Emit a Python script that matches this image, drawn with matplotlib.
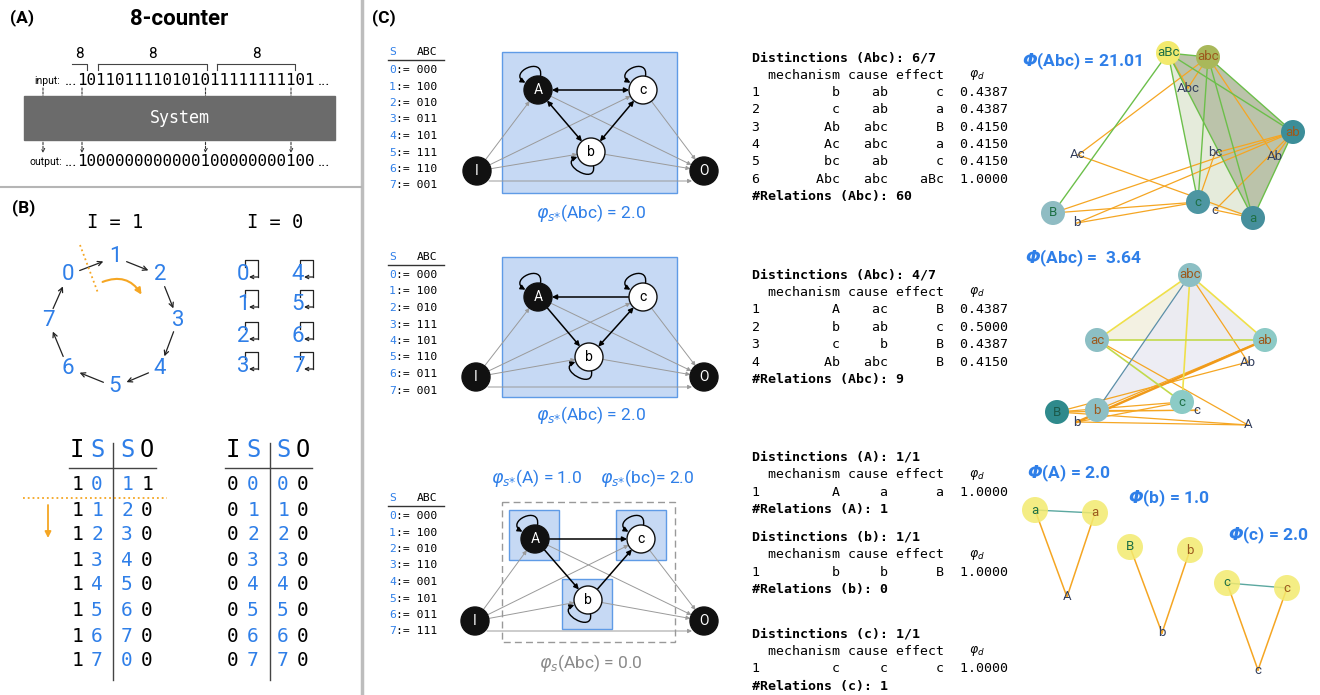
import numpy as np
import matplotlib.pyplot as plt
from matplotlib.patches import Rectangle, FancyArrowPatch, Circle, Polygon
from matplotlib.path import Path

plt.rcParams['font.family'] = ['Roboto', 'DejaVu Sans']
plt.rcParams['mathtext.fontset'] = 'dejavusans'

MONO = 'DejaVu Sans Mono'
BLUE = '#2f7fe8'
ORANGE = '#f5a623'
GREEN_TXT = '#1e7045'
BROWN_TXT = '#9c5a1e'
NAVY_TXT = '#34405e'

# ---------------- data ----------------
input_bits = "1011011110101011111111101"
output_bits = "1000000000000100000000100"
marked_steps = [0, 13, 22]
group_sizes = [8, 8, 8]

cycle_states = ['0', '1', '2', '3', '4', '5', '6', '7']

table_on = [[1, 0, 1, 1], [1, 1, 2, 0], [1, 2, 3, 0], [1, 3, 4, 0],
            [1, 4, 5, 0], [1, 5, 6, 0], [1, 6, 7, 0], [1, 7, 0, 0]]
table_off = [[0, 0, 0, 0], [0, 1, 1, 0], [0, 2, 2, 0], [0, 3, 3, 0],
             [0, 4, 4, 0], [0, 5, 5, 0], [0, 6, 6, 0], [0, 7, 7, 0]]

state_codes = [
    ["000", "100", "010", "011", "101", "111", "110", "001"],
    ["000", "100", "010", "111", "101", "110", "011", "001"],
    ["000", "100", "010", "110", "001", "101", "011", "111"],
]

# black (within-system) connections per row: (from, to, double-headed?)
links_row1 = [('A', 'c', True), ('A', 'b', True), ('c', 'b', True)]
links_row2 = [('c', 'A', False), ('A', 'b', False), ('b', 'c', True)]
links_row3 = [('A', 'c', False), ('A', 'b', False), ('b', 'c', False)]

dist_abc_1 = [("b", "ab", "c", 0.4387), ("c", "ab", "a", 0.4387), ("Ab", "abc", "B", 0.4150),
              ("Ac", "abc", "a", 0.4150), ("bc", "ab", "c", 0.4150), ("Abc", "abc", "aBc", 1.0000)]
dist_abc_2 = [("A", "ac", "B", 0.4387), ("b", "ab", "c", 0.5000), ("c", "b", "B", 0.4387),
              ("Ab", "abc", "B", 0.4150)]
dist_A = [("A", "a", "a", 1.0000)]
dist_b = [("b", "b", "B", 1.0000)]
dist_c = [("c", "c", "c", 1.0000)]
relations = [60, 9, 1, 0, 1]
dist_totals = ["6/7", "4/7", "1/1", "1/1", "1/1"]

big_phi = ["21.01", "3.64", "2.0", "1.0", "2.0"]

# projected cause-effect structures (pixel positions)
ces1_pos = {'aBc': (1168, 53), 'abc': (1208, 57), 'ab': (1293, 132), 'c': (1198, 202),
            'a': (1253, 218), 'B': (1053, 213),
            'Abc': (1188, 88), 'Ac': (1078, 155), 'bc': (1215, 153), 'Ab': (1275, 157),
            'c_m': (1215, 210), 'b_m': (1077, 223)}
ces2_pos = {'abc': (1190, 275), 'ac': (1097, 340), 'ab': (1265, 340), 'c': (1182, 402),
            'b': (1097, 410), 'B': (1057, 412),
            'Ab': (1248, 362), 'c_m': (1197, 410), 'A_m': (1248, 425), 'b_m': (1077, 422)}
ces3_pos = {'a1': (1035, 510), 'a2': (1095, 513), 'A_m': (1067, 597),
            'B1': (1130, 547), 'b2': (1190, 550), 'b_m': (1162, 633),
            'c1': (1227, 583), 'c2': (1287, 588), 'c_m': (1258, 670)}

fig = plt.figure(figsize=(13.2, 6.95), dpi=100)
ax = fig.add_axes([0, 0, 1, 1])
ax.set_xlim(0, 1320)
ax.set_ylim(695, 0)
ax.axis('off')

# separators
ax.plot([362, 362], [0, 695], color='#bdbdbd', lw=2.5)
ax.plot([0, 361], [187, 187], color='#b5b5b5', lw=1.5)

# ---------------- panel A ----------------
ax.text(10, 18, "(A)", fontsize=12.5, fontweight='bold', va='center')
ax.text(179, 19, "8-counter", fontsize=16, fontweight='bold', ha='center', va='center')

cw = 9.5
x0 = 82
for yy, bits in [(85, input_bits), (166, output_bits)]:
    ax.text(x0 - cw / 2, yy, bits, family=MONO, fontsize=11.4, va='baseline')
    ax.text(x0 - cw / 2, yy, "...", fontsize=11.5, ha='right', va='baseline')
    ax.text(x0 - cw / 2 + len(bits) * cw + 3, yy, "...", fontsize=11.5, va='baseline')
ax.text(60, 84, "input:", fontsize=7.5, ha='right', va='baseline')
ax.text(62, 165, "output:", fontsize=7.5, ha='right', va='baseline')

brackets = [(72, 87, False), (98, 207, True), (217, 295, True)]
for (xl, xr, left_tick), n in zip(brackets, group_sizes):
    ax.plot([xl, xr, xr], [64, 64, 70], color='#444', lw=0.8)
    if left_tick:
        ax.plot([xl, xl], [64, 70], color='#444', lw=0.8)
    ax.text((xl + xr) / 2, 54, str(n), fontsize=11, ha='center', va='center')

for xx in [43] + [x0 + i * cw for i in marked_steps]:
    ax.annotate("", xy=(xx, 153), xytext=(xx, 88),
                arrowprops=dict(arrowstyle='->', ls=(0, (2, 1.5)), lw=0.8, color='#333',
                                shrinkA=0, shrinkB=0, mutation_scale=6))

ax.add_patch(Rectangle((24, 96), 311, 44, color='#6b6b6b', zorder=3))
ax.text(180, 118, "System", family=MONO, fontsize=12, color='white', ha='center', va='center', zorder=4)

# ---------------- panel B ----------------
ax.text(12, 208, "(B)", fontsize=12.5, fontweight='bold', va='center')
ax.text(115, 223, "I = 1", family=MONO, fontsize=13.5, ha='center', va='center')
ax.text(275, 223, "I = 0", family=MONO, fontsize=13.5, ha='center', va='center')

cyc_xy = [(68, 275), (115, 257), (160, 275), (178, 320), (160, 368), (115, 387), (68, 368), (48, 320)]
for s, (xx, yy) in zip(cycle_states, cyc_xy):
    ax.text(xx, yy, s, fontsize=16, color=BLUE, ha='center', va='center')
for i in range(len(cyc_xy)):
    p, q = cyc_xy[i], cyc_xy[(i + 1) % len(cyc_xy)]
    ax.add_patch(FancyArrowPatch(p, q, arrowstyle='->', mutation_scale=8, lw=0.9, color='#222',
                                 shrinkA=9, shrinkB=9))
ax.plot([80, 98], [245, 293], color=ORANGE, ls=':', lw=1.3)
ax.add_patch(FancyArrowPatch((100, 283), (143, 297), connectionstyle="arc3,rad=-0.45",
                             arrowstyle='-|>', mutation_scale=9, lw=1.5, color=ORANGE))

for k, s in enumerate(cycle_states):
    xx = 243 if k < 4 else 298
    yy = [275, 305, 337, 367][k % 4]
    ax.text(xx, yy, s, fontsize=16, color=BLUE, ha='center', va='center')
    ax.plot([xx + 2, xx + 2, xx + 15, xx + 15], [yy - 8, yy - 15, yy - 15, yy + 2], color='#222', lw=0.9)
    ax.annotate("", xy=(xx + 6, yy + 2), xytext=(xx + 15.5, yy + 2),
                arrowprops=dict(arrowstyle='->', lw=0.9, color='#222', shrinkA=0, shrinkB=0, mutation_scale=6))


def draw_table(rows, xs, xline):
    head_cols = ['k', BLUE, BLUE, 'k']
    for ch, xx, c in zip("ISSO", xs, head_cols):
        ax.text(xx, 450, ch, family=MONO, fontsize=17, color=c, ha='center', va='center')
    ax.plot([xs[0] - 8, xs[3] + 9], [468, 468], color='#444', lw=1)
    ax.plot([xline, xline], [443, 680], color='#444', lw=1)
    row_y = [485, 510, 535, 560, 585, 610, 636, 661]
    for r, yy in zip(rows, row_y):
        for v, xx, c in zip(r, xs, head_cols):
            ax.text(xx, yy, str(v), family=MONO, fontsize=14, color=c, ha='center', va='center')


draw_table(table_on, [77, 97, 127, 147], 113)
draw_table(table_off, [233, 253, 283, 303], 270)
ax.plot([23, 167], [498, 498], color=ORANGE, ls=':', lw=1.3)
ax.annotate("", xy=(48, 538), xytext=(48, 505),
            arrowprops=dict(arrowstyle='-|>', lw=1.3, color=ORANGE, shrinkA=0, shrinkB=0, mutation_scale=9))

# ---------------- panel C ----------------
ax.text(372, 18, "(C)", fontsize=12.5, fontweight='bold', va='center')


def draw_states(codes, y_head, step):
    ax.text(389, y_head, "S", family=MONO, fontsize=8.2, color=BLUE, va='center')
    ax.text(437, y_head, "ABC", family=MONO, fontsize=8.2, ha='right', va='center')
    ax.plot([388, 444], [y_head + 8, y_head + 8], color='#333', lw=1)
    for k, code in enumerate(codes):
        yy = y_head + 18 + k * step
        ax.text(389, yy, str(k), family=MONO, fontsize=8.2, color=BLUE, va='center')
        ax.text(396, yy, ":= " + code, family=MONO, fontsize=8.2, va='center')


draw_states(state_codes[0], 52, 16.5)
draw_states(state_codes[1], 257, 16.5)
draw_states(state_codes[2], 498, 16.5)

R = 14


def arrow(p, q, col='k', lw=1.0, both=False, sa=10, sb=10, ms=7, z=5):
    style = '<|-|>' if both else '-|>'
    ax.add_patch(FancyArrowPatch(p, q, arrowstyle=style, mutation_scale=ms, lw=lw, color=col,
                                 shrinkA=sa, shrinkB=sb, zorder=z))


def self_loop(x, y, a1, a2, reach=2.5):
    def pt(a, d):
        return (x + d * np.cos(np.radians(a)), y - d * np.sin(np.radians(a)))
    verts = [pt(a1, R), pt(a1, reach * R), pt(a2, reach * R), pt(a2, R + 0.5)]
    path = Path(verts, [Path.MOVETO, Path.CURVE4, Path.CURVE4, Path.CURVE4])
    ax.add_patch(FancyArrowPatch(path=path, arrowstyle='-|>', mutation_scale=7, lw=1.0,
                                 color='k', zorder=5))


def draw_network(pos, links):
    gray = '#9a9a9a'
    for n in ['A', 'c', 'b']:
        arrow(pos['I'], pos[n], col=gray, lw=0.7, ms=6, z=4)
        arrow(pos[n], pos['O'], col=gray, lw=0.7, ms=6, z=4)
    (ix, iy), (ox, oy) = pos['I'], pos['O']
    arrow((ix + 12, iy + 10), (ox - 12, oy + 10), col=gray, lw=0.7, ms=6, sa=0, sb=0, z=4)
    for a, b, both in links:
        arrow(pos[a], pos[b], lw=1.1, both=both)
    self_loop(*pos['A'], 80, 150)
    self_loop(*pos['c'], 80, 150)
    self_loop(*pos['b'], -80, -160)
    for n, (x, y) in pos.items():
        dark = n in ['A', 'I', 'O']
        ax.add_patch(Circle((x, y), R, facecolor='#111' if dark else 'white', edgecolor='#111',
                            lw=1, zorder=6))
        ax.text(x, y, n, color='white' if dark else 'k', fontsize=10, ha='center', va='center', zorder=7)


net1 = {'A': (538, 90), 'c': (643, 90), 'b': (591, 152), 'I': (477, 171), 'O': (704, 171)}
net2 = {'A': (538, 297), 'c': (643, 297), 'b': (589, 357), 'I': (476, 377), 'O': (704, 377)}
net3 = {'A': (535, 539), 'c': (641, 539), 'b': (588, 600), 'I': (475, 621), 'O': (704, 621)}

box_face, box_edge = '#c6d9f4', '#5f9be6'
ax.add_patch(Rectangle((502, 52), 175, 141, facecolor=box_face, edgecolor=box_edge, lw=1, zorder=1))
ax.add_patch(Rectangle((502, 257), 175, 140, facecolor=box_face, edgecolor=box_edge, lw=1, zorder=1))
ax.add_patch(Rectangle((502, 502), 173, 140, facecolor='none', edgecolor='#999', lw=1, ls=(0, (5, 3)), zorder=1))
for (bx, by) in [(509, 510), (616, 510), (562, 579)]:
    ax.add_patch(Rectangle((bx, by), 50, 50, facecolor=box_face, edgecolor=box_edge, lw=1, zorder=1))

draw_network(net1, links_row1)
draw_network(net2, links_row2)
draw_network(net3, links_row3)

PHI_S = r"$\varphi_{s{*}}$"
ax.text(591, 213, PHI_S + "(Abc) = 2.0", fontsize=12.5, color=BLUE, ha='center', va='center')
ax.text(591, 415, PHI_S + "(Abc) = 2.0", fontsize=12.5, color=BLUE, ha='center', va='center')
ax.text(537, 478, PHI_S + "(A) = 1.0", fontsize=12.5, color=BLUE, ha='center', va='center')
ax.text(647, 478, PHI_S + "(bc)= 2.0", fontsize=12.5, color=BLUE, ha='center', va='center')
ax.text(591, 663, r"$\varphi_{s}$(Abc) = 0.0", fontsize=12.5, color='#8a8a8a', ha='center', va='center')

# distinctions text
ccw = 7.9


def draw_block(y, sub, total, rows, nrel, step=17.4):
    x = 752
    ax.text(x, y, f"Distinctions ({sub}): {total}", family=MONO, fontsize=9.5, fontweight='bold', va='center')
    ax.text(x, y + step, "  mechanism cause effect", family=MONO, fontsize=9.5, va='center')
    ax.text(x + 28.5 * ccw, y + step, r"$\varphi_d$", fontsize=9, va='center', ha='center')
    for k, (m, c, e, p) in enumerate(rows):
        line = f"{k + 1:<2}{m:>9} {c:>5} {e:>6} {p:>7.4f}"
        ax.text(x, y + (k + 2) * step, line, family=MONO, fontsize=9.5, va='center')
    ax.text(x, y + (len(rows) + 2) * step, f"#Relations ({sub}): {nrel}", family=MONO, fontsize=9.5,
            fontweight='bold', va='center')


draw_block(58, "Abc", dist_totals[0], dist_abc_1, relations[0], 17.3)
draw_block(275, "Abc", dist_totals[1], dist_abc_2, relations[1], 17.4)
draw_block(457, "A", dist_totals[2], dist_A, relations[2], 17.5)
draw_block(537, "b", dist_totals[3], dist_b, relations[3], 17.5)
draw_block(634, "c", dist_totals[4], dist_c, relations[4], 17.5)

# ---------------- cause-effect structures ----------------
PHI = r"$\mathbfit{\Phi}$"


def segs(pos, pairs, col, lw=1.0, z=2):
    for a, b in pairs:
        ax.plot([pos[a][0], pos[b][0]], [pos[a][1], pos[b][1]], color=col, lw=lw, zorder=z)


def node(pos, name, label, face, tcol, r=12, alpha=1.0):
    x, y = pos[name]
    ax.add_patch(Circle((x, y), r, facecolor=face, edgecolor='none', alpha=alpha, zorder=3))
    ax.text(x, y, label, color=tcol, fontsize=9.5, ha='center', va='center', zorder=4)


def mech(pos, name, label):
    x, y = pos[name]
    ax.text(x, y, label, color=NAVY_TXT, fontsize=9.5, ha='center', va='center', zorder=4)


# structure 1
p = ces1_pos
ax.add_patch(Polygon([p['aBc'], p['c'], p['a']], closed=True, facecolor='#dfe7d2', edgecolor='none', alpha=0.8, zorder=1))
ax.add_patch(Polygon([p['aBc'], p['abc'], p['ab'], p['a']], closed=True, facecolor='#9eaa86', edgecolor='none', alpha=0.7, zorder=1))
segs(p, [('Ac', 'abc'), ('Ac', 'a'), ('aBc', 'Abc'), ('abc', 'Abc'), ('abc', 'Ab'), ('Ab', 'ab'),
         ('B', 'ab'), ('b_m', 'ab'), ('b_m', 'c'), ('bc', 'ab'), ('bc', 'c'), ('c_m', 'ab'),
         ('B', 'c'), ('c_m', 'a')], ORANGE, 0.9)
segs(p, [('aBc', 'B'), ('aBc', 'c'), ('aBc', 'a'), ('aBc', 'ab'), ('abc', 'c'), ('abc', 'a'),
         ('abc', 'ab'), ('ab', 'a'), ('aBc', 'abc')], '#6cbf4a', 1.0)
node(p, 'aBc', 'aBc', '#f3ea6e', GREEN_TXT)
node(p, 'abc', 'abc', '#a9b85a', BROWN_TXT)
node(p, 'ab', 'ab', '#3c8e99', BROWN_TXT)
node(p, 'c', 'c', '#4d96a2', GREEN_TXT)
node(p, 'a', 'a', '#468f9c', GREEN_TXT)
node(p, 'B', 'B', '#8fbcc3', GREEN_TXT)
for n, l in [('Abc', 'Abc'), ('Ac', 'Ac'), ('bc', 'bc'), ('Ab', 'Ab'), ('c_m', 'c'), ('b_m', 'b')]:
    mech(p, n, l)
ax.text(1022, 61, PHI + "(Abc) = " + big_phi[0], fontsize=12.5, fontweight='bold', color=BLUE, va='center')

# structure 2
p = ces2_pos
ax.add_patch(Polygon([p['abc'], p['ac'], p['ab']], closed=True, facecolor='#f3f1e2', edgecolor='none', zorder=1))
ax.add_patch(Polygon([p['abc'], p['b'], p['ab']], closed=True, facecolor='#ebebf3', edgecolor='none', alpha=0.9, zorder=1))
segs(p, [('abc', 'Ab'), ('ac', 'A_m'), ('B', 'Ab'), ('b', 'ab'), ('B', 'c'), ('b_m', 'c'),
         ('B', 'c_m'), ('b_m', 'A_m'), ('B', 'A_m'), ('b', 'c_m')], ORANGE, 0.9)
segs(p, [('b_m', 'ab')], '#f09a1a', 1.8)
segs(p, [('abc', 'ac'), ('abc', 'ab'), ('abc', 'c')], '#efe04a', 1.2)
segs(p, [('ac', 'ab'), ('ac', 'c')], '#c2da4c', 1.2)
segs(p, [('abc', 'b')], '#5b8fa8', 0.9)
node(p, 'abc', 'abc', '#8cbfc4', BROWN_TXT)
node(p, 'ac', 'ac', '#8cbfc4', BROWN_TXT)
node(p, 'ab', 'ab', '#8ccac6', BROWN_TXT)
node(p, 'c', 'c', '#8ccbc6', GREEN_TXT)
node(p, 'b', 'b', '#8cbfc4', BROWN_TXT)
node(p, 'B', 'B', '#2f8a8c', '#1c5a4a')
for n, l in [('Ab', 'Ab'), ('c_m', 'c'), ('A_m', 'A'), ('b_m', 'b')]:
    mech(p, n, l)
ax.text(1025, 258, PHI + "(Abc) =  " + big_phi[1], fontsize=12.5, fontweight='bold', color=BLUE, va='center')

# structure 3
p = ces3_pos
segs(p, [('a1', 'A_m'), ('a2', 'A_m'), ('B1', 'b_m'), ('b2', 'b_m'), ('c1', 'c_m'), ('c2', 'c_m')], ORANGE, 1.1)
segs(p, [('a1', 'a2'), ('c1', 'c2')], '#5ba8a0', 1.0)
for n, l, tc in [('a1', 'a', GREEN_TXT), ('a2', 'a', BROWN_TXT), ('B1', 'B', GREEN_TXT),
                 ('b2', 'b', BROWN_TXT), ('c1', 'c', GREEN_TXT), ('c2', 'c', BROWN_TXT)]:
    node(p, n, l, '#f3ea6e', tc, r=13, alpha=0.85)
for n, l in [('A_m', 'A'), ('b_m', 'b'), ('c_m', 'c')]:
    mech(p, n, l)
ax.text(1027, 473, PHI + "(A) = " + big_phi[2], fontsize=12.5, fontweight='bold', color=BLUE, va='center')
ax.text(1128, 498, PHI + "(b) = " + big_phi[3], fontsize=12.5, fontweight='bold', color=BLUE, va='center')
ax.text(1228, 535, PHI + "(c) = " + big_phi[4], fontsize=12.5, fontweight='bold', color=BLUE, va='center')

fig.savefig("out.png", dpi=100)
